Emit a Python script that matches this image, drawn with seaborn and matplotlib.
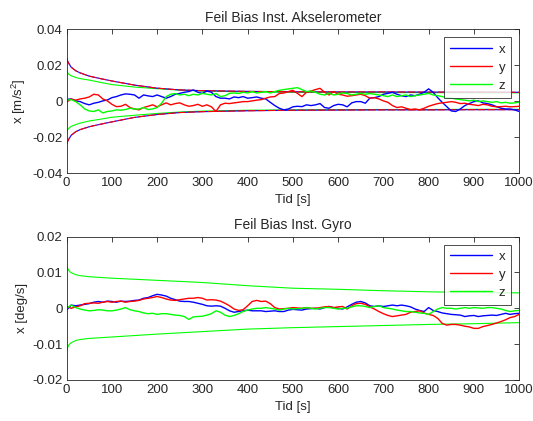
import numpy as np
import pandas as pd
import matplotlib
matplotlib.use("Agg")
import matplotlib.pyplot as plt
import seaborn as sns

# time grid of the bias estimates [s]
t = np.arange(0, 1001, 10)

# accelerometer bias estimates [1e-3 m/s^2]
acc_x = [1.0, 1.3, 0.2, -0.2, -1.3, -2.0, -1.1, -0.6, 0.2, 0.7,
         2.0, 2.6, 3.5, 4.1, 3.9, 3.5, 1.7, 3.5, 3.0, 2.6,
         3.5, 2.6, 1.7, 2.6, 3.9, 4.4, 5.0, 5.4, 6.3, 5.0,
         4.4, 5.7, 5.0, 2.6, 1.7, 1.7, 1.3, 2.4, 2.0, 2.6,
         1.7, 2.0, 2.4, 1.7, 1.3, -0.6, -2.4, -3.9, -4.8, -4.3,
         -3.1, -2.8, -3.0, -2.0, -2.4, -2.0, -1.3, -3.5, -3.9, -2.4,
         -1.7, -2.0, -3.1, -0.9, -0.2, -0.2, -1.1, 1.7, 2.0, 2.6,
         3.9, 4.4, 5.0, 3.9, 3.1, 2.6, 3.5, 3.1, 3.9, 5.0,
         6.9, 5.0, 2.0, -0.6, -3.0, -5.4, -5.7, -4.3, -2.4, -1.3,
         -0.2, 0.2, -0.9, -1.3, -2.0, -3.0, -3.9, -4.3, -4.3, -4.8,
         -5.7]
acc_y = [-0.5, 1.3, 0.6, 1.3, 1.7, 2.4, 3.9, 3.5, 1.3, 0.2,
         -1.7, -3.0, -2.8, -1.7, -3.5, -4.3, -4.8, -3.5, -2.8, -2.0,
         -3.1, -2.0, -0.9, -2.0, -1.3, -0.9, -2.0, -2.8, -2.4, -1.7,
         -2.8, -2.0, -3.1, -5.7, -2.0, -1.1, -1.3, -0.9, -0.6, -0.2,
         -0.2, 0.2, 0.6, 0.9, 1.7, 2.4, 2.6, 4.3, 4.6, 5.4,
         6.1, 4.4, 2.6, 5.0, 5.7, 6.5, 7.2, 5.0, 3.5, 5.4,
         3.9, 3.5, 2.8, 3.1, 3.5, 3.9, 3.1, 1.7, 2.0, 1.3,
         0.2, -0.6, -2.4, -3.5, -3.1, -3.9, -4.6, -4.3, -4.8, -3.9,
         -2.8, -2.0, -1.3, -0.9, -0.6, -0.2, -0.6, -1.3, -1.1, -1.7,
         -2.0, -2.4, -1.7, -2.0, -2.8, -3.1, -3.0, -2.8, -3.1, -3.0,
         -2.8]
acc_z = [0.6, 0.9, -0.2, -2.0, -4.3, -5.4, -5.7, -4.8, -6.5, -5.7,
         -5.4, -4.8, -5.0, -4.6, -3.9, -4.4, -4.3, -3.5, -4.6, -4.3,
         -3.5, -1.1, 2.6, 3.9, 4.3, 3.5, 3.9, 3.1, 3.9, 3.5,
         4.4, 3.9, 3.5, 4.3, 2.6, 3.1, 4.4, 4.6, 4.3, 5.0,
         4.6, 5.4, 4.6, 5.0, 5.4, 4.6, 5.4, 6.1, 6.5, 6.9,
         7.2, 7.6, 6.5, 5.4, 5.7, 5.0, 3.9, 3.5, 4.4, 3.5,
         3.9, 4.6, 4.3, 3.5, 3.9, 4.4, 3.9, 4.3, 3.9, 3.5,
         3.1, 2.6, 3.5, 2.6, 3.1, 3.5, 2.6, 3.1, 3.5, 3.9,
         4.4, 3.5, 3.1, 2.6, 2.0, 1.7, 1.3, 0.9, 0.6, 0.2,
         0.6, -0.2, 0.2, -0.2, -0.6, -0.2, -0.9, -0.6, -1.1, -0.9,
         -0.6]

# accelerometer uncertainty bounds [1e-3 m/s^2]
acc_bound_t = [0, 2, 5, 10, 20, 30, 50, 75, 100, 150, 200, 250, 300,
               400, 500, 600, 700, 800, 900, 1000]
acc_xy_upper = [24, 22.5, 21, 19, 17, 15.8, 14, 12.6, 11.3, 9, 7.3, 6.3, 5.9,
                5.5, 5.3, 5.2, 5.2, 5.1, 5.1, 5.0]
acc_xy_lower = [-24, -22.5, -21, -19, -17, -15.8, -14.2, -12.8, -11.5, -9,
                -7.4, -6.3, -5.8, -5.3, -5.0, -4.9, -4.8, -4.8, -4.7, -4.7]
acc_z_upper = [17, 16, 15, 14.2, 13.3, 12.6, 11.8, 10.5, 9.3, 7.9, 7.0, 6.2,
               5.7, 5.2, 5.0, 4.9, 4.8, 4.8, 4.7, 4.7]
acc_z_lower = [-17.5, -16, -15, -14, -13, -12.2, -11, -10, -8.9, -7.8, -6.8,
               -6.0, -5.5, -5.0, -4.8, -4.7, -4.6, -4.6, -4.5, -4.5]

# gyro bias estimates [1e-3 deg/s]
gyr_x = [-0.5, 0.9, 0.7, 0.9, 1.1, 1.3, 1.7, 1.9, 1.7, 2.0,
         1.9, 1.7, 2.0, 1.9, 2.0, 2.2, 2.3, 2.8, 3.0, 3.5,
         3.9, 3.7, 3.4, 2.8, 2.4, 2.0, 1.9, 1.9, 1.7, 1.4,
         1.1, 0.7, 0.6, 0.7, 0.6, 0.0, -0.7, -1.1, -0.9, -0.7,
         -0.5, -0.7, -0.7, -0.7, -0.9, -0.8, -0.7, -0.9, -0.9, -0.5,
         -0.3, -0.4, -0.5, -0.2, -0.1, 0.0, -0.2, 0.2, 0.5, 0.2,
         0.0, -0.2, 0.4, 1.1, 1.7, 1.9, 1.5, 0.7, 0.5, 0.7,
         0.5, 0.7, 0.9, 0.7, 0.9, 0.7, 0.4, -0.2, -0.6, -0.9,
         0.2, -0.6, -0.9, -1.3, -1.5, -1.7, -1.8, -1.9, -2.3, -2.1,
         -2.0, -2.3, -2.1, -2.0, -1.9, -2.0, -1.7, -1.4, -1.7, -1.5,
         -1.4]
gyr_y = [0.5, 0.0, 0.4, 0.7, 1.3, 1.4, 1.5, 1.4, 1.7, 1.9,
         1.7, 1.9, 2.0, 1.7, 1.9, 2.0, 2.2, 2.6, 2.8, 3.0,
         3.3, 3.0, 2.6, 2.3, 2.2, 2.4, 2.6, 2.8, 2.8, 3.0,
         2.8, 2.3, 2.4, 2.3, 2.0, 1.4, 0.7, -0.2, -0.6, -0.4,
         0.7, 1.9, 2.2, 1.9, 2.0, 1.3, 0.2, -0.2, -0.1, 0.0,
         0.2, 0.1, 0.0, 0.2, 0.0, 0.0, 0.2, 0.4, 0.5, 0.2,
         0.4, 0.5, -0.2, 0.7, 1.3, 1.4, 1.1, 0.4, -0.2, -0.9,
         -1.5, -2.0, -2.3, -2.1, -1.9, -1.7, -1.1, -0.9, -0.7, -1.3,
         -1.7, -2.0, -2.8, -4.2, -4.7, -4.5, -4.5, -4.7, -5.0, -5.2,
         -5.6, -5.6, -5.1, -4.8, -4.5, -4.1, -3.7, -3.2, -2.6, -2.3,
         -1.7]
gyr_z = [0.0, 0.9, 0.2, -0.2, -0.5, -0.7, -0.6, -0.4, -0.5, -0.7,
         -0.7, -0.5, -0.2, 0.2, -0.4, -0.7, -0.9, -1.3, -1.5, -1.4,
         -1.7, -1.5, -1.5, -1.7, -1.9, -2.0, -2.3, -3.1, -2.4, -2.3,
         -2.2, -1.9, -1.5, -0.7, -1.1, -1.9, -2.3, -2.0, -1.5, -0.9,
         -0.5, -0.2, 0.0, 0.0, 0.2, 0.0, -0.2, -0.5, -0.2, 0.0,
         -0.2, -0.1, 0.0, 0.2, 0.0, -0.2, 0.0, 0.2, 0.2, 0.0,
         -0.2, 0.0, 0.0, 0.4, 0.7, 0.7, 0.5, 0.2, 0.5, 0.7,
         0.2, 0.0, -0.2, -0.5, -0.7, -0.9, -0.9, -1.1, -1.3, -1.4,
         -1.7, -0.9, -0.2, 0.2, 0.0, 0.0, -0.2, 0.0, 0.2, 0.0,
         0.2, 0.1, 0.0, 0.2, 0.2, 0.0, -0.2, -0.6, -0.9, -0.7,
         -0.6]

# gyro z uncertainty bounds [1e-3 deg/s]
gyr_bound_t = [0, 2, 5, 10, 20, 30, 50, 100, 150, 200, 300, 400, 500, 600,
               700, 800, 900, 1000]
gyr_z_upper = [12.1, 11.2, 10.5, 9.9, 9.4, 9.1, 8.8, 8.4, 8.1, 7.8, 7.2, 6.3,
               5.6, 5.3, 4.9, 4.6, 4.4, 4.3]
gyr_z_lower = [-12.1, -11, -10.2, -9.6, -9.0, -8.7, -8.4, -8.0, -7.6, -7.2,
               -6.5, -5.8, -5.4, -5.1, -4.8, -4.5, -4.3, -4.0]

sns.set_style("white")
plt.rcParams["font.family"] = ["Liberation Sans", "DejaVu Sans"]
plt.rcParams["axes.unicode_minus"] = False
plt.rcParams["mathtext.fontset"] = "custom"
plt.rcParams["mathtext.rm"] = "Liberation Sans"
plt.rcParams["mathtext.it"] = "Liberation Sans"

BLUE, RED, GREEN = (0, 0, 1), (1, 0, 0), (0, 1, 0)
FS = 9.5
TXT = "#262626"

fig = plt.figure(figsize=(5.33, 4.21), dpi=100)
ax1 = fig.add_axes([0.125, 0.589, 0.849, 0.341])
ax2 = fig.add_axes([0.125, 0.0974, 0.849, 0.3406])


def bound(ax, tb, vals, color, dashes=None):
    line = sns.lineplot(x=np.array(tb, float), y=np.array(vals) * 1e-3, ax=ax,
                        color=color, lw=0.8, legend=False).lines[-1]
    if dashes is not None:
        line.set_dashes(dashes)


def walk(ax, vals, color, name):
    sns.lineplot(x=t, y=np.array(vals) * 1e-3, ax=ax, color=color,
                 lw=1.0, label=name)


def style(ax, title, ylabel, ylim, yticks, ytexts):
    ax.set_xlim(0, 1000)
    ax.set_ylim(*ylim)
    ax.set_xticks(np.arange(0, 1001, 100))
    ax.set_yticks(yticks)
    ax.set_yticklabels(ytexts)
    ax.tick_params(direction="in", length=3.5, width=0.6, top=True,
                   right=True, labelsize=FS, pad=3, colors=TXT)
    for s in ax.spines.values():
        s.set_color(TXT)
        s.set_linewidth(0.6)
    ax.set_title(title, fontsize=10, pad=5.5, color=TXT)
    ax.set_xlabel("Tid [s]", fontsize=FS, labelpad=3.5, color=TXT)
    ax.set_ylabel(ylabel, fontsize=FS, labelpad=3, color=TXT)
    leg = ax.legend(loc="upper right", fontsize=FS, handlelength=3.2,
                    frameon=True, fancybox=False, borderaxespad=0.6,
                    labelspacing=0.45, borderpad=0.45, handletextpad=0.5)
    leg.get_frame().set_edgecolor("#202020")
    leg.get_frame().set_linewidth(0.7)


# accelerometer panel
bound(ax1, acc_bound_t, acc_z_upper, GREEN)
bound(ax1, acc_bound_t, acc_z_lower, GREEN)
bound(ax1, acc_bound_t, acc_xy_upper, BLUE)
bound(ax1, acc_bound_t, acc_xy_lower, BLUE)
bound(ax1, acc_bound_t, acc_xy_upper, RED, dashes=(7, 2))
bound(ax1, acc_bound_t, acc_xy_lower, RED, dashes=(7, 2))
walk(ax1, acc_x, BLUE, "x")
walk(ax1, acc_y, RED, "y")
walk(ax1, acc_z, GREEN, "z")
style(ax1, "Feil Bias Inst. Akselerometer", r"x [m/s$^2$]", (-0.04, 0.04),
      [-0.04, -0.02, 0, 0.02, 0.04], ["-0.04", "-0.02", "0", "0.02", "0.04"])

# gyro panel
bound(ax2, gyr_bound_t, gyr_z_upper, GREEN)
bound(ax2, gyr_bound_t, gyr_z_lower, GREEN)
walk(ax2, gyr_x, BLUE, "x")
walk(ax2, gyr_y, RED, "y")
walk(ax2, gyr_z, GREEN, "z")
style(ax2, "Feil Bias Inst. Gyro", "x [deg/s]", (-0.02, 0.02),
      [-0.02, -0.01, 0, 0.01, 0.02], ["-0.02", "-0.01", "0", "0.01", "0.02"])

fig.savefig("out.png", dpi=100)
